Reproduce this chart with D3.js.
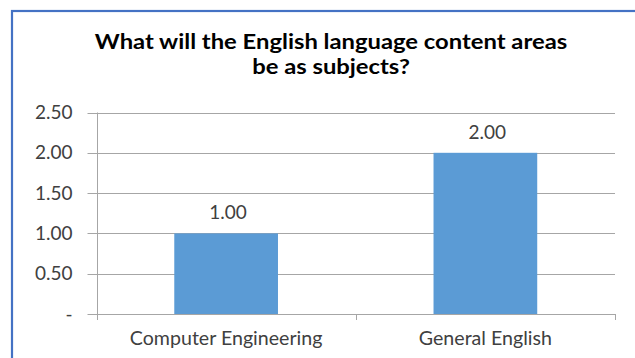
<!DOCTYPE html>
<html>
<head>
<meta charset="utf-8">
<script src="https://cdn.jsdelivr.net/npm/d3@7"></script>
<style>
  html, body { margin: 0; padding: 0; background: #fff; }
  svg { display: block; }
</style>
</head>
<body>
<svg id="chart" width="635" height="358"></svg>
<script>
const categories = ["Computer Engineering", "General English"];
const values = [1.00, 2.00];
const yTicks = [0, 0.5, 1.0, 1.5, 2.0, 2.5];
const yTickLabels = ["-", "0.50", "1.00", "1.50", "2.00", "2.50"];
const titleLines = ["What will the English language content areas", "be as subjects?"];

const svg = d3.select("#chart");
const font = "Lato, 'Open Sans', sans-serif";
const textColor = "#404040";
const lineColor = "#a6a6a6";

// chart frame (continues past the right and bottom edges)
svg.append("rect")
  .attr("x", 12).attr("y", 11)
  .attr("width", 660).attr("height", 380)
  .attr("fill", "#fff")
  .attr("stroke", "#4472C4").attr("stroke-width", 2.2);

const plot = { left: 96.5, right: 615, top: 112.5, bottom: 314 };

const x = d3.scaleBand()
  .domain(categories)
  .range([plot.left, plot.right])
  .paddingInner(0.6)
  .paddingOuter(0.3);

const y = d3.scaleLinear()
  .domain([0, 2.5])
  .range([plot.bottom, plot.top]);

// horizontal gridlines, starting at the outer end of the y tick marks
svg.append("g")
  .selectAll("line")
  .data(yTicks)
  .join("line")
  .attr("x1", plot.left - 9).attr("x2", plot.right)
  .attr("y1", d => Math.round(y(d)) + 0.5).attr("y2", d => Math.round(y(d)) + 0.5)
  .attr("stroke", lineColor).attr("stroke-width", 1);

// y axis labels
const yAxis = d3.axisLeft(y)
  .tickValues(yTicks)
  .tickFormat((d, i) => yTickLabels[i])
  .tickSize(0)
  .tickPadding(24);
const gy = svg.append("g")
  .attr("transform", `translate(${plot.left},0)`)
  .call(yAxis);
gy.select(".domain").remove();
gy.selectAll("text")
  .attr("font-family", font).attr("font-size", 19).attr("fill", textColor);

// y axis line
svg.append("line")
  .attr("x1", Math.round(plot.left) + 0.5).attr("x2", Math.round(plot.left) + 0.5)
  .attr("y1", plot.top).attr("y2", plot.bottom + 6)
  .attr("stroke", lineColor);

// x axis tick marks at category boundaries
const bounds = [plot.left, (plot.left + plot.right) / 2, plot.right];
svg.append("g").selectAll("line")
  .data(bounds)
  .join("line")
  .attr("x1", d => Math.round(d) + 0.5).attr("x2", d => Math.round(d) + 0.5)
  .attr("y1", plot.bottom).attr("y2", plot.bottom + 6)
  .attr("stroke", lineColor);

// x axis labels
const xAxis = d3.axisBottom(x).tickSize(0).tickPadding(17);
const gx = svg.append("g")
  .attr("transform", `translate(0,${plot.bottom})`)
  .call(xAxis);
gx.select(".domain").remove();
gx.selectAll("text")
  .attr("font-family", font).attr("font-size", 19.6).attr("fill", textColor);

// bars
svg.append("g").selectAll("rect")
  .data(values)
  .join("rect")
  .attr("x", (d, i) => x(categories[i]))
  .attr("y", d => y(d))
  .attr("width", x.bandwidth())
  .attr("height", d => y(0) - y(d))
  .attr("fill", "#5B9BD5");

// value labels
svg.append("g").selectAll("text")
  .data(values)
  .join("text")
  .attr("x", (d, i) => x(categories[i]) + x.bandwidth() / 2 + 2)
  .attr("y", d => y(d) - 14)
  .attr("text-anchor", "middle")
  .attr("font-family", font).attr("font-size", 19).attr("fill", textColor)
  .text(d => d.toFixed(2));

// two-line title, set in a horizontally widened bold face
const title = svg.append("text")
  .attr("transform", "translate(331,0) scale(1.19,1)")
  .attr("text-anchor", "middle")
  .attr("font-family", font).attr("font-size", 20).attr("font-weight", "bold")
  .attr("fill", "#000");
title.selectAll("tspan")
  .data(titleLines)
  .join("tspan")
  .attr("x", 0)
  .attr("y", (d, i) => 49.5 + i * 24.5)
  .text(d => d);
</script>
</body>
</html>
